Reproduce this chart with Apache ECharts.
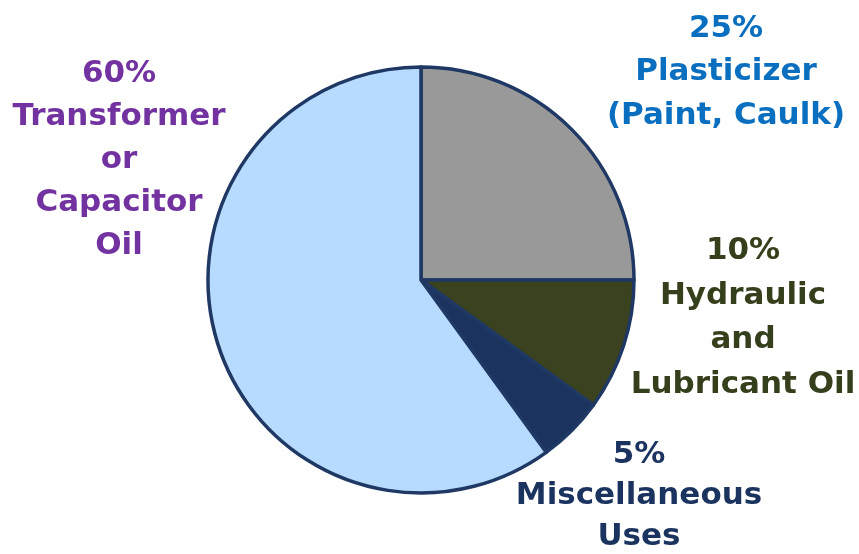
<!DOCTYPE html>
<html>
<head>
<meta charset="utf-8">
<script src="https://cdn.jsdelivr.net/npm/echarts@6/dist/echarts.min.js"></script>
<style>
  html, body { margin: 0; padding: 0; background: #fff; }
  #chart { width: 859px; height: 554px; }
</style>
</head>
<body>
<div id="chart"></div>
<script>
// 数据
let names = ['Plasticizer\n(Paint, Caulk)', 'Hydraulic\nand\nLubricant Oil', 'Miscellaneous\nUses', 'Transformer\nor\nCapacitor\nOil']
let values = [25, 10, 5, 60]

// 样式
let sliceColors = ['#999999', '#3a4220', '#1b335f', '#b7dbff']
let textColors = ['#0a6fbf', '#353f1c', '#1b335f', '#7232a0']
let labelPos = [[726, 72], [743, 318], [639, 496], [119, 160]]
let lineHeights = [43.5, 44.5, 41, 43]

let myChart = echarts.init(document.getElementById('chart'))

myChart.setOption({
    animation: false,
    series: [{
        type: 'pie',
        center: [421, 280],
        radius: 213,
        startAngle: 90,
        clockwise: true,
        avoidLabelOverlap: false,
        itemStyle: {
            borderColor: '#1f3864',
            borderWidth: 3.5
        },
        labelLine: { show: false },
        label: {
            show: true,
            position: 'outside',
            overflow: 'none',
            width: 400,
            fontFamily: 'DejaVu Sans',
            fontWeight: 'bold',
            fontSize: 31,
            align: 'center',
            formatter: function (p) {
                return p.value + '%\n' + p.name
            }
        },
        labelLayout: function (params) {
            let pos = labelPos[params.dataIndex]
            return {
                x: pos[0],
                y: pos[1],
                align: 'center',
                verticalAlign: 'middle'
            }
        },
        emphasis: { disabled: true },
        data: names.map(function (n, i) {
            return {
                name: n,
                value: values[i],
                itemStyle: { color: sliceColors[i] },
                label: { color: textColors[i], lineHeight: lineHeights[i], fontSize: 31 }
            }
        })
    }]
})
</script>
</body>
</html>
